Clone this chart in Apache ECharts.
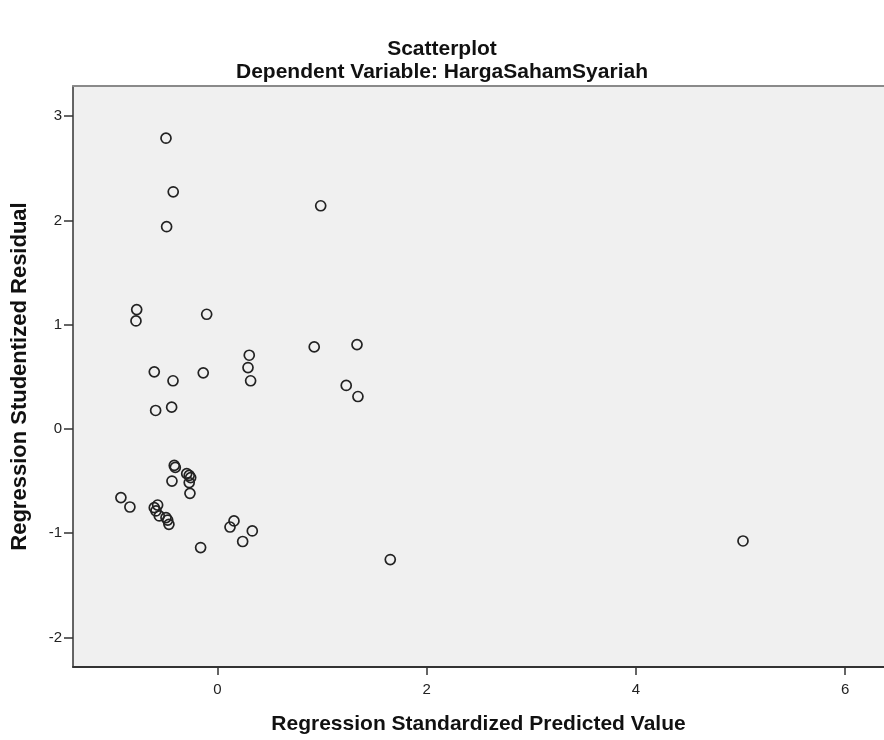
<!DOCTYPE html>
<html>
<head>
<meta charset="utf-8">
<script src="https://cdn.jsdelivr.net/npm/echarts@6/dist/echarts.min.js"></script>
<style>html,body{margin:0;padding:0;background:#fff}#c{width:884px;height:740px}</style>
</head>
<body>
<div id="c"></div>
<script>
// Regression Standardized Predicted Value
const predictedValues = [
  -0.492, -0.423, -0.486, -0.772, -0.779, -0.103, 0.987, -0.604, -0.425, -0.136,
  0.304, 0.292, 0.317, -0.591, -0.438, 0.925, 1.334, 1.231, 1.343, -0.413,
  -0.403, -0.435, -0.294, -0.270, -0.256, -0.270, -0.263, -0.923, -0.837, -0.604,
  -0.572, -0.588, -0.556, -0.492, -0.476, -0.464, -0.161, 0.120, 0.158, 0.241,
  0.333, 1.652, 5.024
];
// Regression Studentized Residual
const residualValues = [
  2.789, 2.275, 1.940, 1.145, 1.036, 1.100, 2.141, 0.548, 0.462, 0.538,
  0.707, 0.589, 0.462, 0.177, 0.209, 0.787, 0.809, 0.417, 0.311, -0.350,
  -0.369, -0.500, -0.429, -0.445, -0.467, -0.515, -0.618, -0.659, -0.749, -0.755,
  -0.730, -0.787, -0.835, -0.851, -0.874, -0.915, -1.138, -0.941, -0.883, -1.080,
  -0.979, -1.253, -1.075
];
const xTicks = [0, 2, 4, 6];
const yTicks = [-2, -1, 0, 1, 2, 3];

const FONT = 'Arial, "Liberation Sans", sans-serif';
const points = predictedValues.map((x, i) => [x, residualValues[i]]);

const chart = echarts.init(document.getElementById('c'), null, {renderer: 'canvas'});
chart.setOption({
  animation: false,
  backgroundColor: '#ffffff',
  title: [
    {text: 'Scatterplot', left: 'center', top: 34,
     textStyle: {fontFamily: FONT, fontSize: 21, fontWeight: 'bold', color: '#111'}},
    {text: 'Dependent Variable: HargaSahamSyariah', left: 'center', top: 57,
     textStyle: {fontFamily: FONT, fontSize: 21, fontWeight: 'bold', color: '#111'}}
  ],
  grid: {left: 73, right: 0, top: 86, bottom: 72, show: true,
         backgroundColor: '#f0f0f0', borderWidth: 0},
  xAxis: [{
    type: 'value', min: -1.381, max: 6.372, position: 'bottom',
    name: 'Regression Standardized Predicted Value', nameLocation: 'middle', nameGap: 47,
    nameTextStyle: {fontFamily: FONT, fontSize: 21, fontWeight: 'bold', color: '#111'},
    axisLine: {show: true, onZero: false, lineStyle: {color: '#333', width: 2}},
    axisTick: {show: true, length: 8, customValues: xTicks, lineStyle: {color: '#333', width: 1.5}},
    axisLabel: {customValues: xTicks, margin: 15, fontFamily: FONT, fontSize: 15, color: '#222'},
    splitLine: {show: false}
  }, {
    type: 'value', min: -1.381, max: 6.372, position: 'top',
    axisLine: {show: true, onZero: false, lineStyle: {color: '#8a8a8a', width: 2}},
    axisTick: {show: false}, axisLabel: {show: false}, splitLine: {show: false}
  }],
  yAxis: {
    type: 'value', min: -2.284, max: 3.29,
    name: 'Regression Studentized Residual', nameLocation: 'middle', nameGap: 42, nameRotate: 90,
    nameTextStyle: {fontFamily: FONT, fontSize: 22, fontWeight: 'bold', color: '#111'},
    axisLine: {show: true, onZero: false, lineStyle: {color: '#333', width: 1.5}},
    axisTick: {show: true, length: 9, customValues: yTicks, lineStyle: {color: '#333', width: 1.5}},
    axisLabel: {customValues: yTicks, margin: 11, fontFamily: FONT, fontSize: 15, color: '#222'},
    splitLine: {show: false}
  },
  series: [{
    type: 'scatter',
    xAxisIndex: 0,
    data: points,
    symbol: 'circle',
    symbolSize: 10,
    itemStyle: {color: 'rgba(0,0,0,0)', borderColor: '#222', borderWidth: 1.7, opacity: 1}
  }]
});
</script>
</body>
</html>
